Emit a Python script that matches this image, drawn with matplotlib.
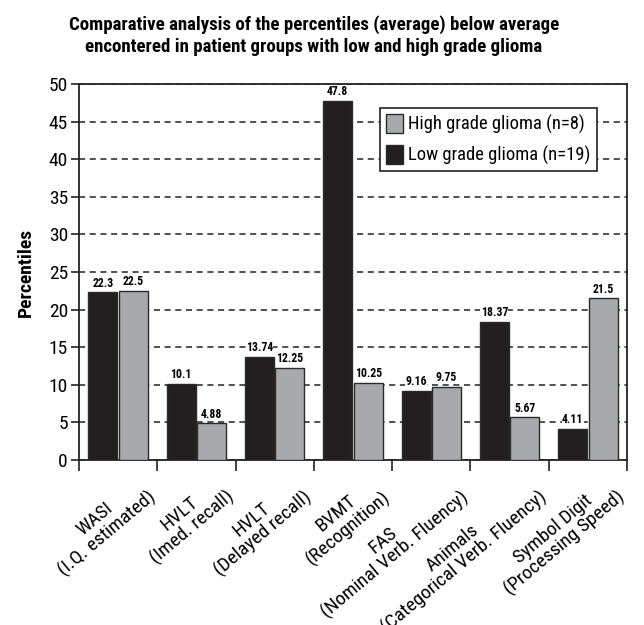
import matplotlib
matplotlib.use("Agg")
import matplotlib.pyplot as plt
import numpy as np
from matplotlib import font_manager
from matplotlib.patches import Patch

# ---- font choice: a condensed sans like the reference's Helvetica Condensed ----
avail = {}
for f in font_manager.fontManager.ttflist:
    avail.setdefault(f.name, set()).add((f.weight, f.style))
prefs = ['Roboto Condensed', 'Archivo Narrow', 'PT Sans Narrow', 'Liberation Sans Narrow',
         'Fira Sans Condensed', 'IBM Plex Sans Condensed', 'Encode Sans Condensed',
         'Asap Condensed', 'Barlow Condensed', 'Pragati Narrow', 'Liberation Sans']
FAM = 'DejaVu Sans'
for p in prefs:
    if p in avail:
        wnum = set()
        for w, s in avail[p]:
            if s != 'normal':
                continue
            try:
                wnum.add(int(w))
            except Exception:
                wnum.add({'normal': 400, 'regular': 400, 'bold': 700}.get(str(w), 400))
        if any(w >= 600 for w in wnum) and any(w <= 500 for w in wnum):
            FAM = p
            break
plt.rcParams['font.family'] = [FAM, 'DejaVu Sans']

# ---- data ----
categories = ["WASI\n(I.Q. estimated)", "HVLT\n(Imed. recall)", "HVLT\n(Delayed recall)",
              "BVMT\n(Recognition)", "FAS\n(Nominal Verb. Fluency)",
              "Animals\n(Categorical Verb. Fluency)", "Symbol Digit\n(Processing Speed)"]
low_grade = [22.3, 10.1, 13.74, 47.8, 9.16, 18.37, 4.11]
high_grade = [22.5, 4.88, 12.25, 10.25, 9.75, 5.67, 21.5]
low_labels = ["22.3", "10.1", "13.74", "47.8", "9.16", "18.37", "4.11"]
high_labels = ["22.5", "4.88", "12.25", "10.25", "9.75", "5.67", "21.5"]
series_names = ["High grade glioma (n=8)", "Low grade glioma (n=19)"]
yticks = [0, 5, 10, 15, 20, 25, 30, 35, 40, 45, 50]

fig = plt.figure(figsize=(6.44, 6.25), dpi=100)
ax = fig.add_axes([79/644, 1-460/625, (627-79)/644, (460-84)/625])

x = np.arange(len(categories))
w = 0.37
c_low = '#231f20'
c_high = '#a7a9ac'
b_low = ax.bar(x - w/2 - 0.01, low_grade, w, color=c_low, edgecolor='#2a2a2a', linewidth=1, zorder=3)
b_high = ax.bar(x + w/2 + 0.01, high_grade, w, color=c_high, edgecolor='#2a2a2a', linewidth=1, zorder=3)

for bars, labs in ((b_low, low_labels), (b_high, high_labels)):
    for rect, lab in zip(bars, labs):
        ax.text(rect.get_x() + rect.get_width()/2, rect.get_height() + 0.35, lab,
                ha='center', va='bottom', fontsize=8.5, fontweight='bold', zorder=4,
                bbox=dict(facecolor='white', edgecolor='none', pad=0.2))

ax.set_xlim(-0.5, len(categories) - 0.5)
ax.set_ylim(0, 50)
ax.set_yticks(yticks)
ax.set_yticklabels([str(t) for t in yticks], fontsize=14)
ax.yaxis.grid(True, linestyle=(0, (4, 3)), color='#222222', linewidth=1.1, zorder=0)
ax.set_axisbelow(True)

ax.set_xticks(np.arange(len(categories) + 1) - 0.5)
ax.set_xticklabels([])
ax.tick_params(axis='x', direction='out', length=8, width=1.2, color='#222222')
ax.tick_params(axis='y', direction='out', length=6, width=1.2, color='#222222', pad=2)
for s in ax.spines.values():
    s.set_linewidth(1.3)
    s.set_color('#222222')

for i, lab in enumerate(categories):
    ax.text(i + 0.22, -1.8, lab, rotation=40, ha='right', va='top', multialignment='center',
            fontsize=14, rotation_mode='anchor', linespacing=1.0)

ax.set_ylabel("Percentiles", fontsize=14, fontweight='bold', labelpad=10)

fig.text(314/644, 1 - 36/625,
         "Comparative analysis of the percentiles (average) below average\nencontered in patient groups with low and high grade glioma",
         ha='center', va='center', fontsize=13.6, fontweight='bold', linespacing=1.28)

handles = [Patch(facecolor=c_high, edgecolor='#2a2a2a'), Patch(facecolor=c_low, edgecolor='#2a2a2a')]
leg = ax.legend(handles, series_names, loc='upper left', bbox_to_anchor=((380-79)/548, (460-108)/376),
                fontsize=13.3, frameon=True, fancybox=False, edgecolor='#222222', framealpha=1,
                handlelength=0.9, handleheight=1.2, handletextpad=0.25, borderpad=0.35,
                labelspacing=0.55, borderaxespad=0)
leg.get_frame().set_linewidth(1.2)

fig.savefig("out.png", dpi=100)
